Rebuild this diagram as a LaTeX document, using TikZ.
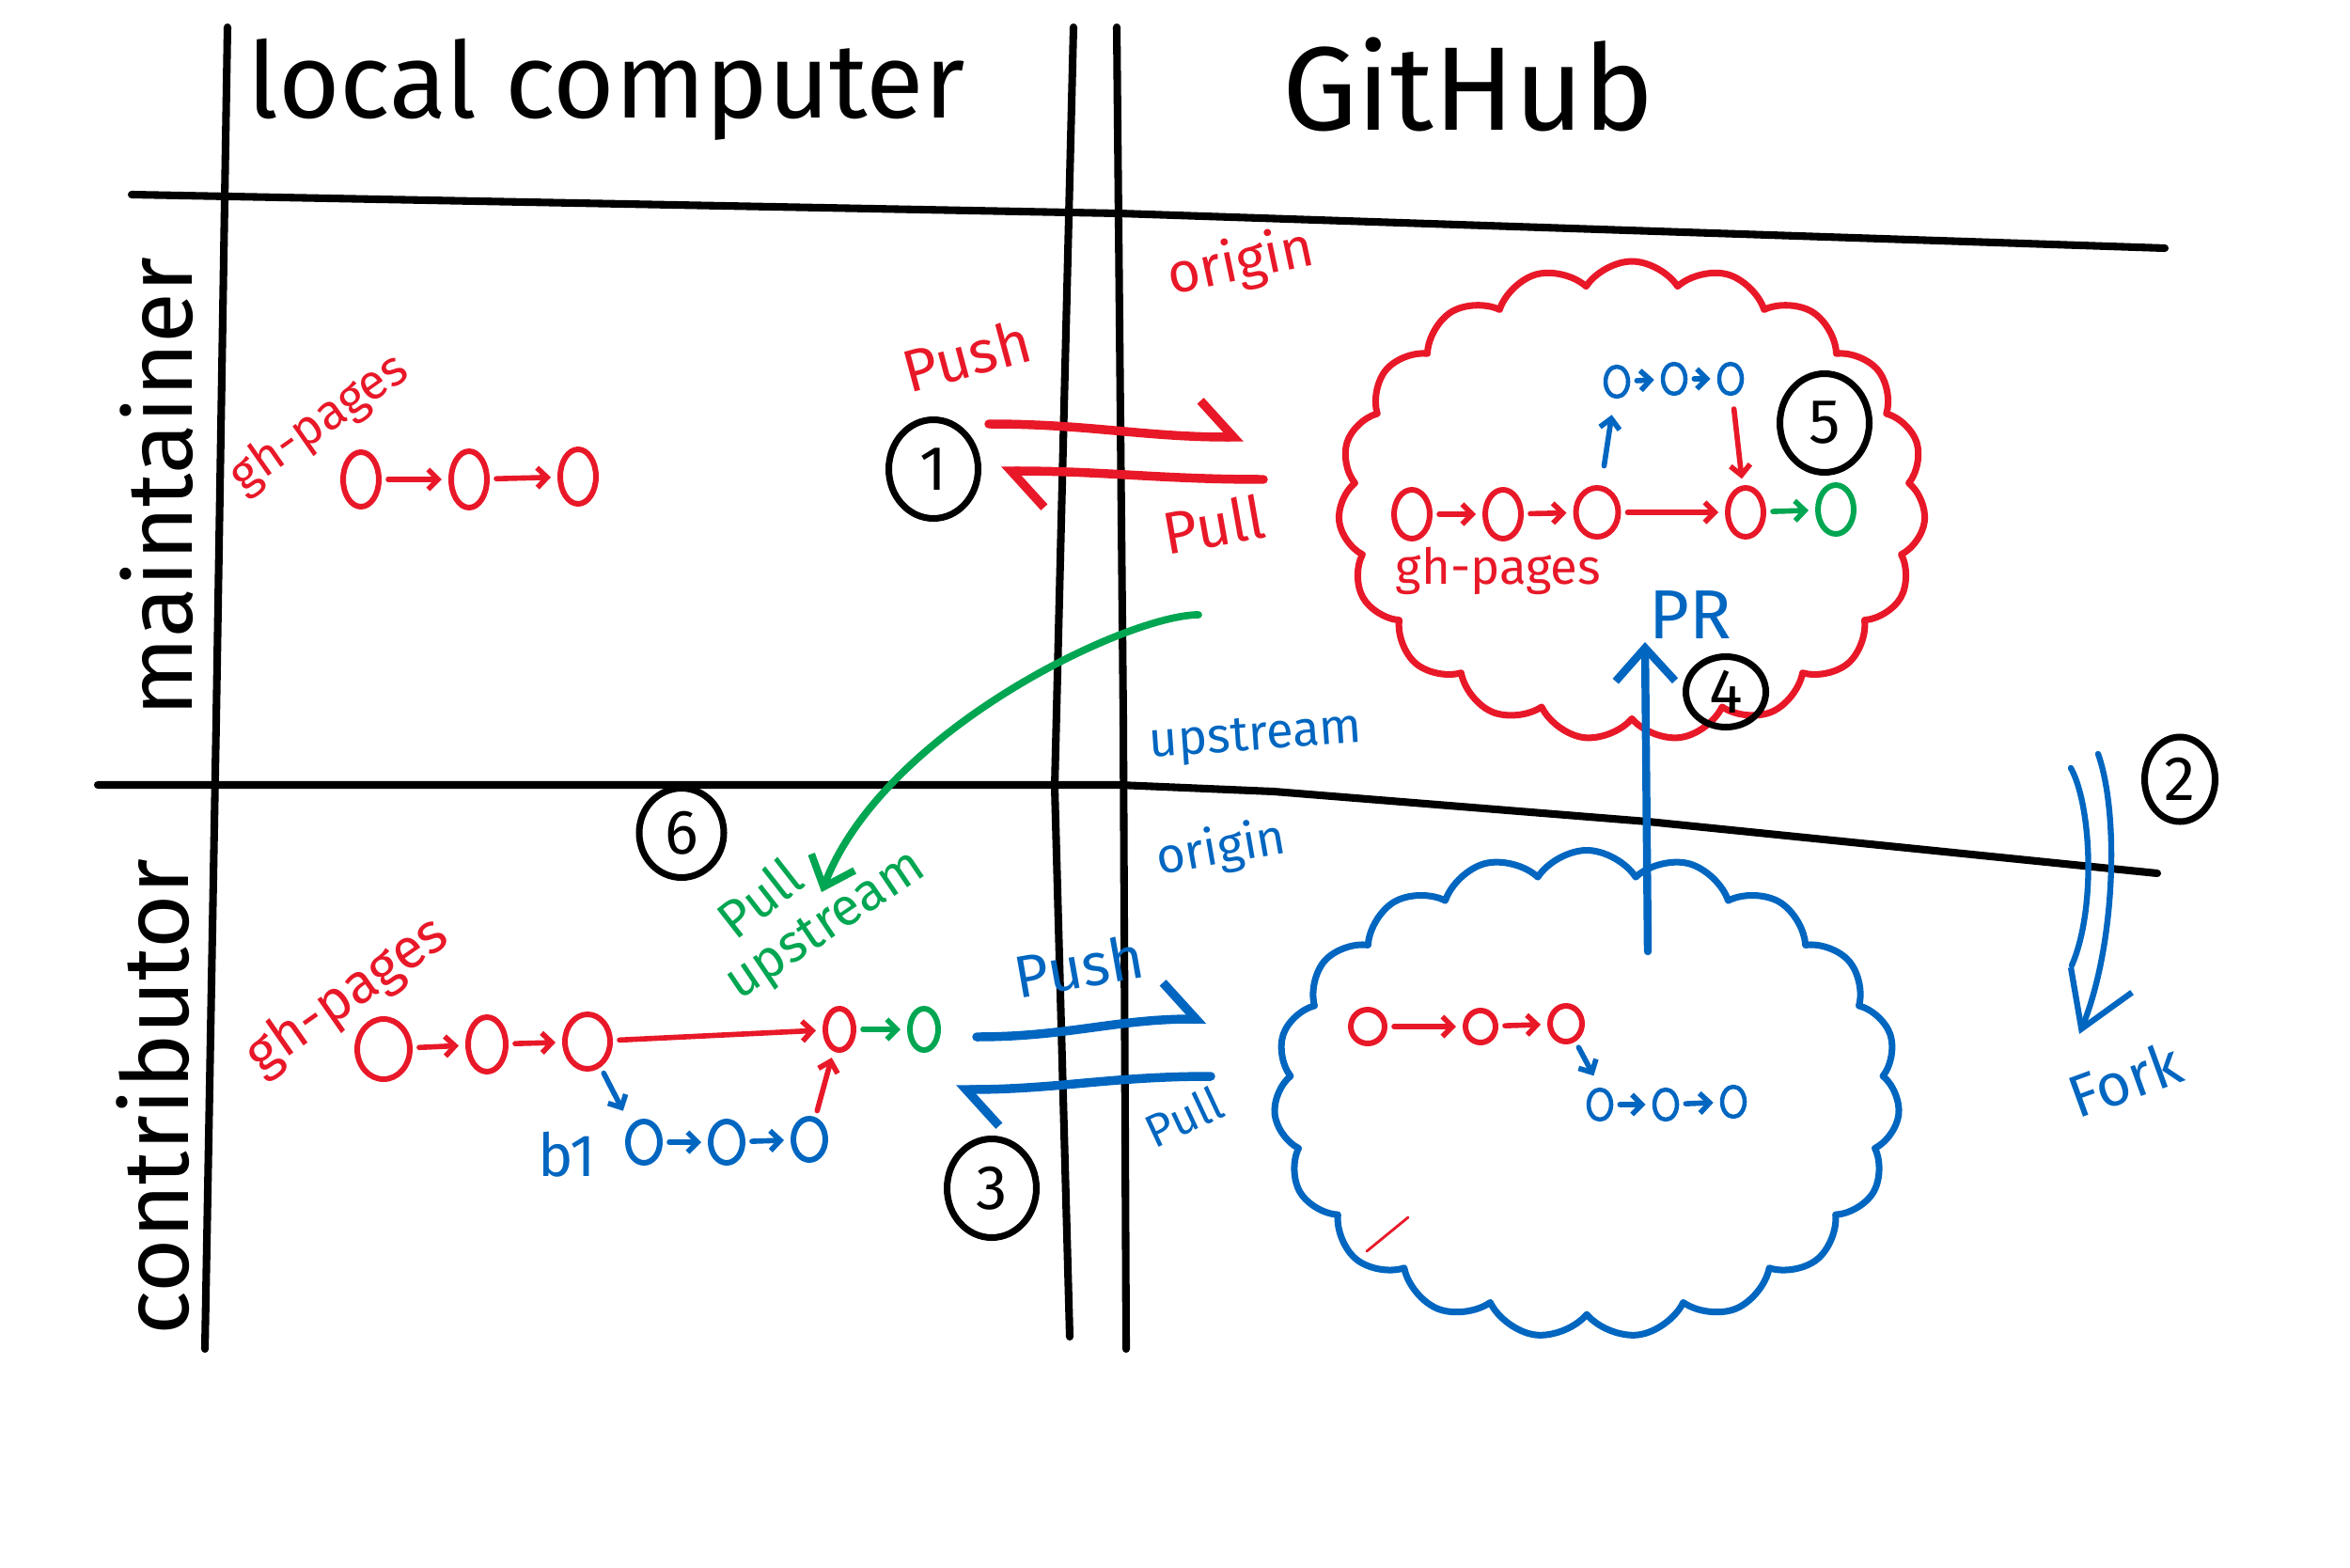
\documentclass[tikz,border=0pt]{standalone}
\usepackage{fontspec}
\setmainfont{Fira Sans}
\usetikzlibrary{arrows.meta,shapes.geometric,shapes.symbols}
\definecolor{penred}{RGB}{232, 24, 40}
\definecolor{penblue}{RGB}{0, 102, 192}
\definecolor{pengreen}{RGB}{0, 166, 81}
\tikzset{
  grid/.style={line width=2.3pt, black},
  commit/.style={draw=#1, ellipse, line width=1.7pt, inner sep=0pt, minimum width=.38cm, minimum height=.52cm},
  commit/.default=penred,
  twig/.style={minimum width=.24cm, minimum height=.32cm, line width=1.3pt},
  hop/.style={draw=#1, line width=1.6pt, -{Straight Barb[length=3pt, width=6pt]}, shorten >=2pt, shorten <=2pt},
  harp/.style={draw=#1, line width=2.7pt, -{Straight Barb[harpoon, length=10pt, width=22pt]}},
  numcirc/.style={draw=black, ellipse, line width=2pt, inner sep=0pt, minimum width=.95cm, minimum height=1.05cm, font=\fontsize{19}{20}\selectfont},
  scrawl/.style={text=#1, inner sep=1pt, font=\fontsize{18}{20}\selectfont},
  tag/.style={text=#1, inner sep=1pt, font=\fontsize{15}{17}\selectfont},
  headtext/.style={inner sep=0pt, font=\fontsize{32}{38}\selectfont},
  rowtext/.style={inner sep=0pt, rotate=90, font=\fontsize{28}{32}\selectfont},
  puff/.style={cloud, draw=#1, line width=2pt, cloud puffs=19, cloud puff arc=115, cloud ignores aspect},
  forkline/.style={draw=penblue, line width=1.8pt}
}
\begin{document}
\begin{tikzpicture}[line cap=round, line join=round]
  \useasboundingbox (0,0) rectangle (25,16.67);

  \draw[grid] (2.42,16.38) -- (2.30,9.00) -- (2.18,2.32);
  \draw[grid] (11.42,16.38) -- (11.22,8.30) -- (11.38,2.45);
  \draw[grid] (11.88,16.38) -- (11.95,9.00) -- (11.98,2.32);
  \draw[grid] (1.40,14.60) -- (11.90,14.40) -- (23.03,14.03);
  \draw[grid] (1.04,8.32) -- (11.90,8.32) -- (13.55,8.25) -- (17.53,7.93) -- (22.95,7.38);

  \node[headtext] (loc)   at (6.45,15.72) {local computer};
  \node[headtext, font=\fontsize{36}{40}\selectfont] (hub) at (15.62,15.77) {GitHub};
  \node[rowtext]  (maint) at (1.67,11.49) {maintainer};
  \node[rowtext]  (contr) at (1.63,5.00)  {contributor};

  \node[tag=penred, rotate=35] (mtag) at (3.40,12.16) {gh-pages};
  \node[commit, minimum height=.58cm] (ma1) at (3.84,11.57) {};
  \node[commit, minimum height=.60cm] (ma2) at (4.99,11.57) {};
  \node[commit, minimum height=.58cm] (ma3) at (6.15,11.60) {};
  \draw[hop=penred] (ma1) -- (ma2);
  \draw[hop=penred] (ma2) -- (ma3);

  \node[numcirc] (n1) at (9.93,11.68) {1};
  \coordinate (push1a) at (10.52,12.16);
  \coordinate (push1b) at (13.23,12.02);
  \coordinate (pull1a) at (13.44,11.57);
  \coordinate (pull1b) at (10.65,11.66);
  \draw[harp=penred] (push1a) to[out=0, in=180] (push1b);
  \draw[harp=penred] (pull1a) to[out=180, in=0] (pull1b);
  \node[scrawl=penred, rotate=15] (push1) at (10.28,12.89) {Push};
  \node[scrawl=penred, rotate=10] (pull1) at (12.91,11.09) {Pull};
  \node[tag=penred, font=\fontsize{17}{19}\selectfont, rotate=12] (orig1) at (13.20,13.86) {origin};

  \node[puff=penred, minimum width=6.25cm, minimum height=5.1cm] (upcloud) at (17.36,11.34) {};
  \node[commit] (u1) at (15.02,11.20) {};
  \node[commit] (u2) at (15.99,11.20) {};
  \node[commit, minimum width=.45cm] (u3) at (16.99,11.22) {};
  \node[commit] (u4) at (18.57,11.22) {};
  \node[commit=pengreen] (u5) at (19.53,11.25) {};
  \draw[hop=penred] (u1) -- (u2);
  \draw[hop=penred] (u2) -- (u3);
  \draw[hop=penred] (u3) -- (u4);
  \draw[hop=pengreen] (u4) -- (u5);
  \node[tag=penred] (utag) at (15.94,10.60) {gh-pages};
  \node[commit=penblue, twig] (v1) at (17.20,12.61) {};
  \node[commit=penblue, twig] (v2) at (17.81,12.64) {};
  \node[commit=penblue, twig] (v3) at (18.41,12.64) {};
  \draw[hop=penblue] (v1) -- (v2);
  \draw[hop=penblue] (v2) -- (v3);
  \draw[hop=penblue, shorten <=6pt, shorten >=5pt] (u3) -- (v1);
  \draw[hop=penred, shorten <=4pt] (v3) -- (u4);
  \node[numcirc] (n5) at (19.41,12.17) {5};
  \node[scrawl=penblue, font=\fontsize{21}{23}\selectfont] (pr) at (17.98,10.13) {PR};
  \node[numcirc, minimum width=.85cm, minimum height=.75cm] (n4) at (18.36,9.31) {4};

  \node[tag=penblue, rotate=4] (upstr) at (13.36,8.81) {upstream};
  \coordinate (gstart) at (12.75,10.13);
  \coordinate (gend)   at (8.74,7.18);
  \draw[pengreen, line width=2.2pt, -{Straight Barb[length=8pt, width=14pt]}] (gstart) .. controls (12.00,10.13) and (9.40,8.90) .. (gend);

  \node[numcirc, minimum width=.75cm, minimum height=.9cm] (n2) at (23.19,8.38) {2};
  \coordinate (forkout) at (22.32,8.65);
  \coordinate (forkin)  at (22.03,8.50);
  \coordinate (forktip) at (22.12,5.67);
  \coordinate (forkinend) at (22.04,6.40);
  \draw[forkline, -{Straight Barb[length=16pt, width=20pt]}] (forkout) .. controls (22.55,8.00) and (22.50,6.60) .. (forktip);
  \draw[forkline] (forkin) .. controls (22.25,8.10) and (22.30,7.00) .. (forkinend);
  \node[scrawl=penblue, rotate=20] (fork) at (22.60,5.19) {Fork};

  \node[numcirc, minimum width=.9cm, minimum height=.95cm] (n6) at (7.25,7.81) {6};
  \node[tag=penblue, rotate=10] (orig2) at (12.99,7.63) {origin};

  \node[puff=penblue, minimum width=6.66cm, minimum height=5.19cm] (forkcloud) at (16.88,5.03) {};
  \node[commit, minimum width=.36cm, minimum height=.36cm] (f1) at (14.55,5.75) {};
  \node[commit, minimum width=.32cm, minimum height=.34cm] (f2) at (15.75,5.75) {};
  \node[commit, minimum width=.34cm, minimum height=.38cm] (f3) at (16.66,5.78) {};
  \draw[hop=penred] (f1) -- (f2);
  \draw[hop=penred] (f2) -- (f3);
  \node[commit=penblue, twig] (g1) at (17.02,4.92) {};
  \node[commit=penblue, twig] (g2) at (17.72,4.92) {};
  \node[commit=penblue, twig] (g3) at (18.44,4.95) {};
  \draw[hop=penblue] (g1) -- (g2);
  \draw[hop=penblue] (g2) -- (g3);
  \draw[hop=penblue, shorten >=4pt] (f3) -- (g1.north);
  \draw[penred, line width=.8pt] (14.54,3.36) -- (14.98,3.72);

  \coordinate (prfoot) at (17.53,6.55);
  \coordinate (prhead) at (17.50,9.84);
  \draw[penblue, line width=2.4pt, -{Straight Barb[length=10pt, width=18pt]}] (prfoot) -- (prhead);

  \coordinate (push3a) at (10.39,5.64);
  \coordinate (push3b) at (12.83,5.83);
  \coordinate (pull3a) at (12.88,5.22);
  \coordinate (pull3b) at (10.17,5.08);
  \draw[harp=penblue] (push3a) to[out=0, in=180] (push3b);
  \draw[harp=penblue] (pull3a) to[out=180, in=0] (pull3b);
  \node[scrawl=penblue, rotate=10] (push3) at (11.48,6.39) {Push};
  \node[tag=penblue, font=\fontsize{14}{16}\selectfont, rotate=25] (pull3) at (12.59,4.79) {Pull};
  \node[numcirc] (n3) at (10.55,4.03) {3};

  \node[tag=penred, font=\fontsize{17}{19}\selectfont, rotate=35] (ctag) at (3.70,6.07) {gh-pages};
  \node[commit, minimum width=.56cm, minimum height=.64cm] (c1) at (4.08,5.51) {};
  \node[commit, minimum width=.40cm, minimum height=.58cm] (c2) at (5.18,5.56) {};
  \node[commit, minimum width=.48cm, minimum height=.58cm] (c3) at (6.25,5.59) {};
  \node[commit, minimum width=.30cm, minimum height=.44cm] (c4) at (8.93,5.72) {};
  \node[commit=pengreen, minimum width=.30cm, minimum height=.44cm] (c5) at (9.83,5.72) {};
  \draw[hop=penred] (c1) -- (c2);
  \draw[hop=penred] (c2) -- (c3);
  \draw[hop=penred] (c3) -- (c4);
  \draw[hop=pengreen] (c4) -- (c5);
  \node[scrawl=penblue] (b1) at (6.03,4.39) {b1};
  \node[commit=penblue, minimum width=.34cm, minimum height=.44cm] (d1) at (6.85,4.52) {};
  \node[commit=penblue, minimum width=.34cm, minimum height=.44cm] (d2) at (7.73,4.52) {};
  \node[commit=penblue, minimum width=.34cm, minimum height=.44cm] (d3) at (8.61,4.55) {};
  \draw[hop=penblue] (d1) -- (d2);
  \draw[hop=penblue] (d2) -- (d3);
  \draw[hop=penblue, shorten >=5pt] (c3) -- (d1.north west);
  \draw[hop=penred] (d3) -- (c4);
  \node[tag=pengreen, rotate=38, font=\fontsize{16}{17}\selectfont] (pullword) at (8.08,7.12) {Pull};
  \node[tag=pengreen, rotate=34, font=\fontsize{16}{17}\selectfont] (upword) at (8.80,6.80) {upstream};
\end{tikzpicture}
\end{document}
